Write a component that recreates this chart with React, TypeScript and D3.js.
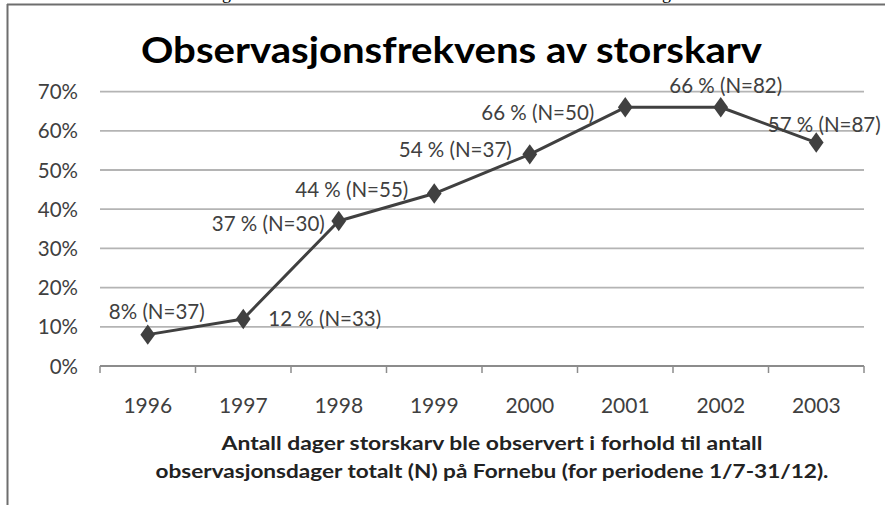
import React from "react";
import * as d3 from "d3";

const years = ["1996", "1997", "1998", "1999", "2000", "2001", "2002", "2003"];
const shares = [0.08, 0.12, 0.37, 0.44, 0.54, 0.66, 0.66, 0.57];
const counts = [37, 33, 30, 55, 37, 50, 82, 87];
const yTicks = [0, 0.1, 0.2, 0.3, 0.4, 0.5, 0.6, 0.7];
const labelTexts = [
  "8% (N=37)",
  "12 % (N=33)",
  "37 % (N=30)",
  "44 % (N=55)",
  "54 % (N=37)",
  "66 % (N=50)",
  "66 % (N=82)",
  "57 % (N=87)",
];
const titleText = "Observasjonsfrekvens av storskarv";
const axisTitle1 = "Antall dager storskarv ble observert  i forhold til antall";
const axisTitle2 = "observasjonsdager totalt (N) på Fornebu (for periodene 1/7-31/12).";

// label layout: anchor, dx, dy (relative to point)
const labelLayout: [string, number, number][] = [
  ["middle", 9, -16],
  ["start", 25, 7],
  ["end", -14, 10],
  ["end", -26, 3],
  ["end", -18, 3],
  ["end", -31, 13],
  ["middle", 5, -14],
  ["middle", 8, -11],
];

const W = 885;
const H = 505;
const FONT = "Lato, 'Open Sans', sans-serif";

export default function App() {
  const x = d3.scaleBand<string>().domain(years).range([100, 864]);
  const y = d3.scaleLinear().domain([0, 0.7]).range([366, 91.6]);
  const cx = (i: number) => (x(years[i]) as number) + x.bandwidth() / 2;
  const line = d3
    .line<number>()
    .x((_, i) => cx(i))
    .y((d) => y(d));
  const diamond = d3.symbol().type(d3.symbolDiamond).size(120)();
  const edges = years.map((yr) => x(yr) as number).concat([864]);

  return (
    <svg
      width={W}
      height={H}
      style={{ position: "fixed", left: 0, top: 0, background: "#fff" }}
    >
      <rect x={0} y={0} width={W} height={H} fill="#fff" />
      {/* cut-off text of the page above */}
      <text x={222} y={-1} fontFamily="'Liberation Serif', serif" fontSize={18} fill="#000">g</text>
      <text x={662} y={-1} fontFamily="'Liberation Serif', serif" fontSize={18} fill="#000">g</text>
      {/* frame */}
      <line x1={7} x2={W} y1={4.5} y2={4.5} stroke="#6e6e6e" strokeWidth={2} />
      <line x1={7.5} x2={7.5} y1={4} y2={H} stroke="#6e6e6e" strokeWidth={2} />

      {/* title */}
      <text
        x={141}
        y={63}
        fontFamily={FONT}
        fontWeight="bold"
        fontSize={36}
        fill="#000"
        textLength={621}
        lengthAdjust="spacingAndGlyphs"
      >
        {titleText}
      </text>

      {/* gridlines */}
      {yTicks.slice(1).map((t) => (
        <line
          key={t}
          x1={100}
          x2={864}
          y1={y(t)}
          y2={y(t)}
          stroke="#b4b4b4"
          strokeWidth={1.8}
        />
      ))}
      {/* x axis */}
      <line x1={100} x2={864} y1={y(0)} y2={y(0)} stroke="#8c8c8c" strokeWidth={1.8} />
      {edges.map((e, i) => (
        <line key={i} x1={e} x2={e} y1={y(0)} y2={y(0) + 7} stroke="#8c8c8c" strokeWidth={1.5} />
      ))}

      {/* y labels */}
      {yTicks.map((t) => (
        <text
          key={t}
          x={78}
          y={y(t) + 7.5}
          textAnchor="end"
          fontFamily={FONT}
          fontSize={20.5}
          fill="#404040"
        >
          {`${Math.round(t * 100)}%`}
        </text>
      ))}

      {/* x labels */}
      {years.map((yr, i) => (
        <text
          key={yr}
          x={cx(i)}
          y={413}
          textAnchor="middle"
          fontFamily={FONT}
          fontSize={21}
          fill="#404040"
        >
          {yr}
        </text>
      ))}

      {/* axis title */}
      <text
        x={492}
        y={450}
        textAnchor="middle"
        fontFamily={FONT}
        fontWeight="bold"
        fontSize={18.5}
        fill="#222"
        textLength={541}
        lengthAdjust="spacingAndGlyphs"
      >
        {axisTitle1}
      </text>
      <text
        x={492}
        y={477.5}
        textAnchor="middle"
        fontFamily={FONT}
        fontWeight="bold"
        fontSize={18.5}
        fill="#222"
        textLength={673}
        lengthAdjust="spacingAndGlyphs"
      >
        {axisTitle2}
      </text>

      {/* data labels */}
      {shares.map((s, i) => {
        const [anchor, dx, dy] = labelLayout[i];
        return (
          <text
            key={i}
            x={cx(i) + dx}
            y={y(s) + dy}
            textAnchor={anchor as any}
            fontFamily={FONT}
            fontSize={20.5}
            fill="#404040"
          >
            {labelTexts[i]}
          </text>
        );
      })}

      {/* series */}
      <path d={line(shares) || ""} fill="none" stroke="#404040" strokeWidth={3} strokeLinejoin="round" />
      {shares.map((s, i) => (
        <path
          key={i}
          d={diamond || ""}
          transform={`translate(${cx(i)},${y(s)}) scale(1.25,1)`}
          fill="#404040"
        />
      ))}
    </svg>
  );
}
